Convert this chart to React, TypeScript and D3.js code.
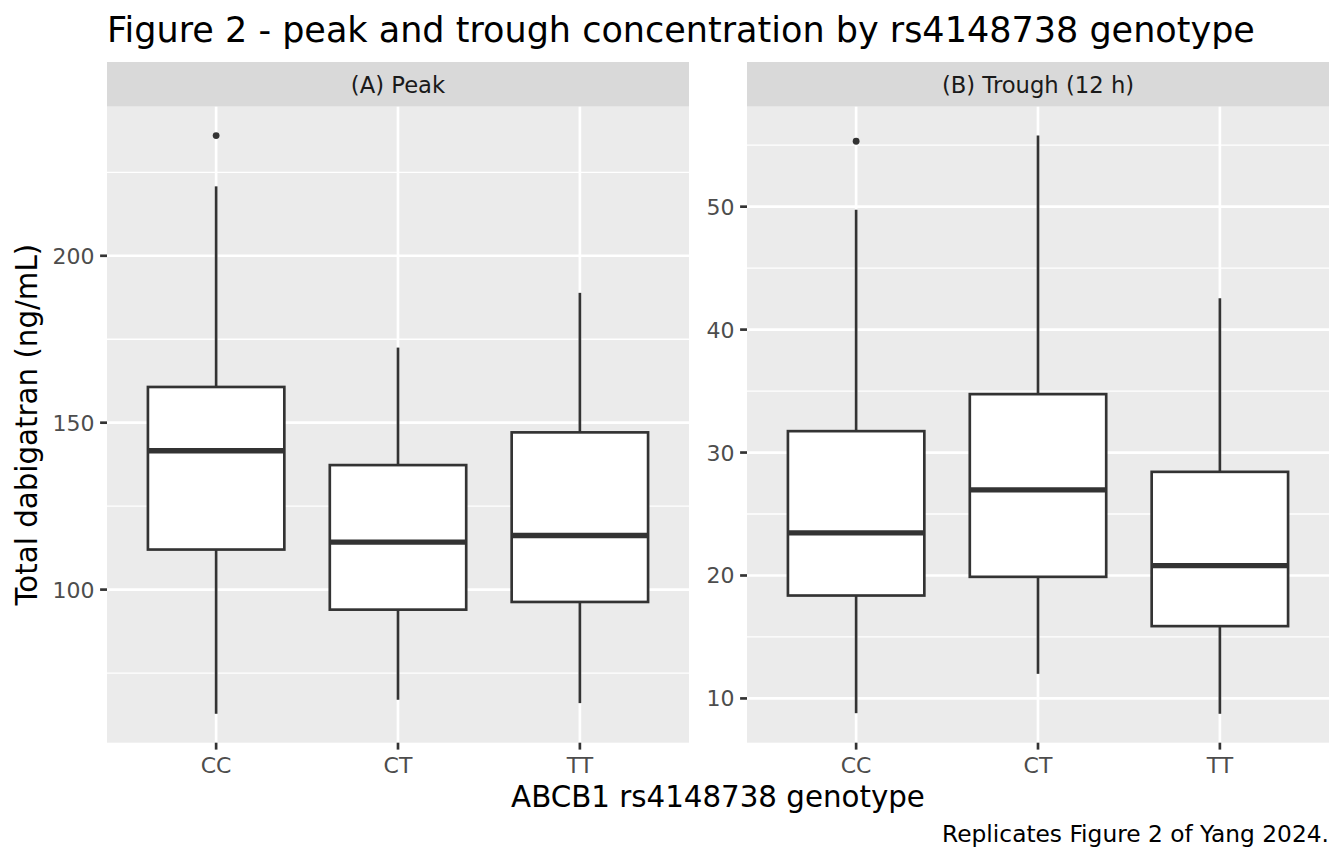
import * as d3 from "d3";

// values
const genotypes = ["CC", "CT", "TT"];

const peakLow = [62.8, 67.0, 66.0];
const peakQ1 = [112.0, 94.0, 96.3];
const peakMedian = [141.6, 114.2, 116.2];
const peakQ3 = [160.7, 137.3, 147.1];
const peakHigh = [220.8, 172.5, 188.9];
const peakOutliers = [[236.0], [], []];

const troughLow = [8.8, 12.0, 8.75];
const troughQ1 = [18.37, 19.89, 15.88];
const troughMedian = [23.46, 26.96, 20.8];
const troughQ3 = [31.74, 34.75, 28.43];
const troughHigh = [49.75, 55.78, 42.55];
const troughOutliers = [[55.32], [], []];

const panelLabels = ["(A) Peak", "(B) Trough (12 h)"];

const W = 1344;
const H = 864;
const FONT = "'DejaVu Sans', sans-serif";
const INK = "#333333";

const stripTop = 62;
const stripBottom = 106.7;
const panelBottom = 742.7;
const tickLen = 6.9;

type BoxStats = {
    low: number[];
    q1: number[];
    median: number[];
    q3: number[];
    high: number[];
    outliers: number[][];
};

function Panel({ x0, x1, label, stats }: { x0: number; x1: number; label: string; stats: BoxStats }) {
    const all = [...stats.low, ...stats.high, ...stats.outliers.flat()];
    const [mn, mx] = d3.extent(all) as [number, number];
    const pad = (mx - mn) * 0.05;

    const y = d3.scaleLinear().domain([mn - pad, mx + pad]).range([panelBottom, stripBottom]);
    // discrete axis with ggplot's 0.6 expansion on both ends
    const x = d3.scaleLinear().domain([0.4, genotypes.length + 0.6]).range([x0, x1]);

    const major = y.ticks(5);
    const step = major[1] - major[0];
    const minor = d3
        .range(major[0] - step / 2, major[major.length - 1] + step, step)
        .filter(v => v > y.domain()[0] && v < y.domain()[1]);

    const boxW = x(0.75) - x(0);

    return (
        <g>
            <rect x={x0} y={stripTop} width={x1 - x0} height={stripBottom - stripTop} fill="#D9D9D9" />
            <text
                x={(x0 + x1) / 2}
                y={(stripTop + stripBottom) / 2 + 8.2}
                textAnchor="middle"
                fontSize={22.7}
                fill="#1A1A1A"
            >
                {label}
            </text>

            <rect x={x0} y={stripBottom} width={x1 - x0} height={panelBottom - stripBottom} fill="#EBEBEB" />
            {minor.map(v => (
                <line key={"mi" + v} x1={x0} x2={x1} y1={y(v)} y2={y(v)} stroke="#fff" strokeWidth={1.33} />
            ))}
            {major.map(v => (
                <line key={"ma" + v} x1={x0} x2={x1} y1={y(v)} y2={y(v)} stroke="#fff" strokeWidth={2.67} />
            ))}
            {genotypes.map((g, i) => (
                <line key={"gx" + g} x1={x(i + 1)} x2={x(i + 1)} y1={stripBottom} y2={panelBottom} stroke="#fff" strokeWidth={2.67} />
            ))}

            {genotypes.map((g, i) => {
                const cx = x(i + 1);
                return (
                    <g key={"box" + g}>
                        <line x1={cx} x2={cx} y1={y(stats.high[i])} y2={y(stats.q3[i])} stroke={INK} strokeWidth={2.67} />
                        <line x1={cx} x2={cx} y1={y(stats.q1[i])} y2={y(stats.low[i])} stroke={INK} strokeWidth={2.67} />
                        <rect
                            x={cx - boxW / 2}
                            y={y(stats.q3[i])}
                            width={boxW}
                            height={y(stats.q1[i]) - y(stats.q3[i])}
                            fill="#fff"
                            stroke={INK}
                            strokeWidth={2.67}
                        />
                        <line
                            x1={cx - boxW / 2}
                            x2={cx + boxW / 2}
                            y1={y(stats.median[i])}
                            y2={y(stats.median[i])}
                            stroke={INK}
                            strokeWidth={5.33}
                        />
                        {stats.outliers[i].map((o, j) => (
                            <circle key={j} cx={cx} cy={y(o)} r={3.4} fill={INK} />
                        ))}
                    </g>
                );
            })}

            {major.map(v => (
                <g key={"yt" + v}>
                    <line x1={x0 - tickLen} x2={x0} y1={y(v)} y2={y(v)} stroke={INK} strokeWidth={2.67} />
                    <text x={x0 - tickLen - 5.5} y={y(v) + 8} textAnchor="end" fontSize={22} fill="#4D4D4D">
                        {v}
                    </text>
                </g>
            ))}
            {genotypes.map((g, i) => (
                <g key={"xt" + g}>
                    <line x1={x(i + 1)} x2={x(i + 1)} y1={panelBottom} y2={panelBottom + tickLen} stroke={INK} strokeWidth={2.67} />
                    <text x={x(i + 1)} y={772.5} textAnchor="middle" fontSize={22} fill="#4D4D4D">
                        {g}
                    </text>
                </g>
            ))}
        </g>
    );
}

export default function App() {
    const peak: BoxStats = {
        low: peakLow,
        q1: peakQ1,
        median: peakMedian,
        q3: peakQ3,
        high: peakHigh,
        outliers: peakOutliers,
    };
    const trough: BoxStats = {
        low: troughLow,
        q1: troughQ1,
        median: troughMedian,
        q3: troughQ3,
        high: troughHigh,
        outliers: troughOutliers,
    };

    return (
        <svg
            width={W}
            height={H}
            fontFamily={FONT}
            style={{ position: "absolute", left: 0, top: 0, background: "#fff" }}
        >
            <rect width={W} height={H} fill="#fff" />
            <text x={107} y={42} fontSize={35} fill="#000">
                Figure 2 - peak and trough concentration by rs4148738 genotype
            </text>

            <Panel x0={107} x1={689} label={panelLabels[0]} stats={peak} />
            <Panel x0={747} x1={1329} label={panelLabels[1]} stats={trough} />

            <text
                transform={`translate(37,${(stripBottom + panelBottom) / 2}) rotate(-90)`}
                textAnchor="middle"
                fontSize={29.3}
                fill="#000"
            >
                Total dabigatran (ng/mL)
            </text>
            <text x={718} y={807} textAnchor="middle" fontSize={29.3} fill="#000">
                ABCB1 rs4148738 genotype
            </text>
            <text x={1329} y={842} textAnchor="end" fontSize={23.3} fill="#000">
                Replicates Figure 2 of Yang 2024.
            </text>
        </svg>
    );
}
